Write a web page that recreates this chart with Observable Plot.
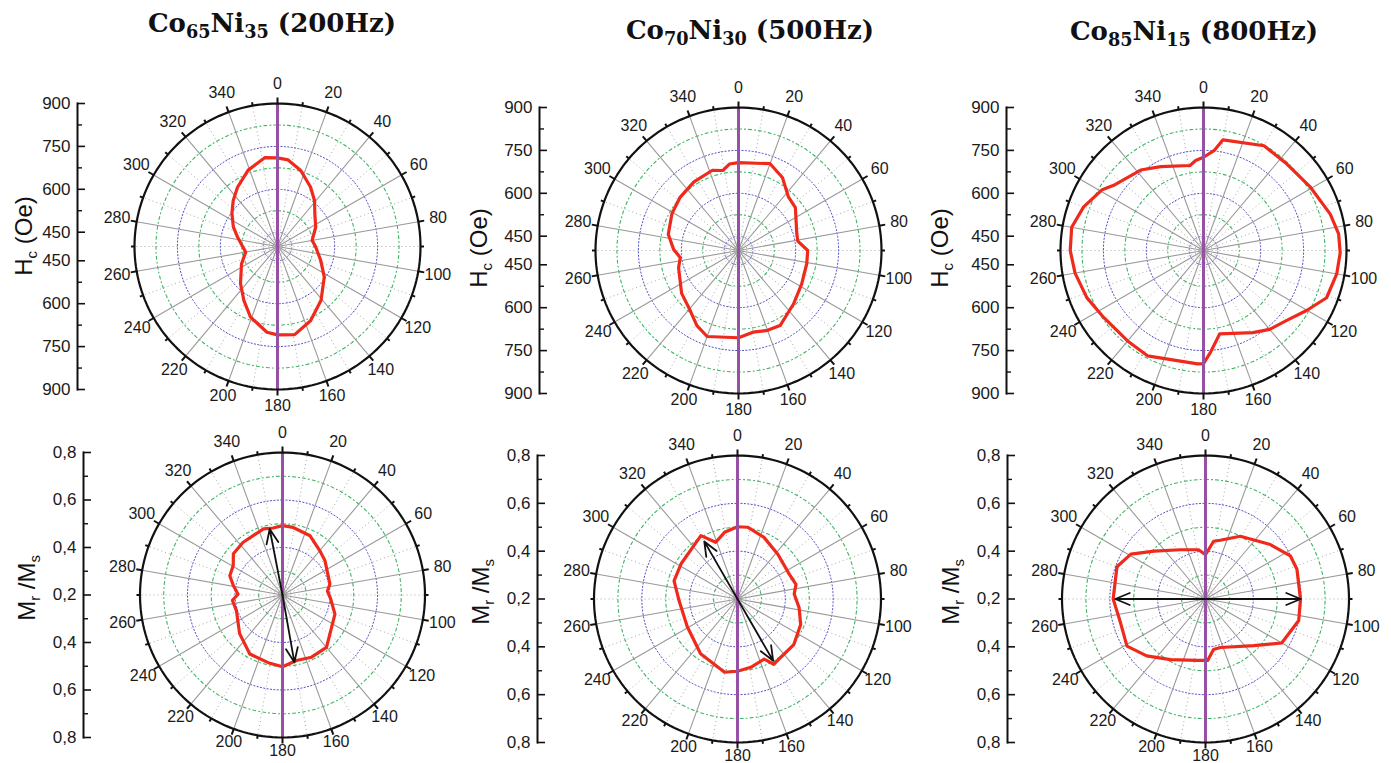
<!DOCTYPE html>
<html><head><meta charset="utf-8">
<script src="https://cdn.jsdelivr.net/npm/d3@7"></script>
<script src="https://cdn.jsdelivr.net/npm/@observablehq/plot@0.6"></script>
<style>
body{margin:0;background:#fff;}
#wrap{position:relative;width:1391px;height:763px;overflow:hidden;background:#fff;font-family:"Liberation Sans",Arial,sans-serif;}
.title{position:absolute;font-family:"DejaVu Serif",serif;font-weight:bold;font-size:26px;line-height:26px;white-space:nowrap;transform:translateX(-50%);color:#111;}
.title sub{font-size:0.68em;vertical-align:-0.32em;line-height:0}
.ylab{position:absolute;font-size:24px;white-space:nowrap;transform:translate(-50%,-50%) rotate(-90deg);color:#111;line-height:1}
.ylab sub{font-size:0.62em;vertical-align:-0.35em;line-height:0}
</style></head>
<body><div id="wrap">
<div class="title" style="left:272px;top:10px">Co<sub>65</sub>Ni<sub>35</sub> (200Hz)</div>
<div class="title" style="left:750px;top:17px">Co<sub>70</sub>Ni<sub>30</sub> (500Hz)</div>
<div class="title" style="left:1194px;top:18px">Co<sub>85</sub>Ni<sub>15</sub> (800Hz)</div>
<div class="ylab" style="left:24px;top:236px">H<sub>c</sub> (Oe)</div>
<div class="ylab" style="left:479px;top:248px">H<sub>c</sub> (Oe)</div>
<div class="ylab" style="left:940px;top:248px">H<sub>c</sub> (Oe)</div>
<div class="ylab" style="left:27px;top:588px">M<sub>r</sub> /M<sub>s</sub></div>
<div class="ylab" style="left:481px;top:592px">M<sub>r</sub> /M<sub>s</sub></div>
<div class="ylab" style="left:951px;top:592px">M<sub>r</sub> /M<sub>s</sub></div>
</div>
<script>
// ---- data ----
const angleTicks = [0,20,40,60,80,100,120,140,160,180,200,220,240,260,280,300,320,340];
const hcTicks = [450, 600, 750, 900];
const hcMinor = [525, 675, 825];
const mrTicks = [0.2, 0.4, 0.6, 0.8];
const mrMinor = [0.3, 0.5, 0.7];

const hc65Angles = [0,7,17,29,39,49,63,80,90,108,123,141,156,169,180,187,201,212,225,244,260,270,283,294,306,316,326,339,352];
const hc65Values = [710,705,678,638,606,573,550,523,533,559,595,642,684,714,709,702,664,622,583,540,513,522,543,569,597,623,650,686,714];

const hc70Angles = [0,20,31,43,53,74,81,90,101,118,134,151,160,170,180,200,209,219,233,254,263,271,283,299,312,327,342,349,354];
const hc70Values = [707,723,698,656,649,612,610,642,643,650,668,700,697,690,705,720,700,669,649,618,605,627,652,666,676,686,695,685,704];

const hc85Angles = [0,6,10,30,44,59,74,83,91,100,111,120,130,140,149,169,176,180,183,208,220,236,248,260,270,280,290,301,306,322,333,351,355];
const hc85Values = [726,751,793,823,820,834,861,876,878,873,861,818,780,760,735,697,756,796,797,817,813,820,840,856,866,868,846,813,788,757,729,701,716];

const mr65Angles = [0,9,25,40,51,77,85,95,110,123,140,155,168,180,191,209,228,251,264,271,281,290,301,310,323,344,352];
const mr65Values = [0.492,0.488,0.475,0.444,0.430,0.405,0.390,0.404,0.435,0.447,0.488,0.489,0.482,0.502,0.492,0.484,0.443,0.405,0.412,0.387,0.411,0.436,0.442,0.470,0.477,0.490,0.485];

const mr70Angles = [0,8,23,42,64,76,85,98,112,129,151,156,169,180,190,214,241,268,286,302,330,339,349];
const mr70Values = [0.502,0.503,0.481,0.452,0.440,0.452,0.438,0.460,0.485,0.503,0.512,0.475,0.491,0.502,0.511,0.476,0.440,0.444,0.476,0.478,0.506,0.454,0.484];

const mr85Angles = [0,8,14,29,50,63,72,90,103,120,134,163,171,178,188,210,226,239,254,270,290,301,313,333,352];
const mr85Values = [0.385,0.444,0.453,0.500,0.554,0.598,0.602,0.597,0.600,0.568,0.481,0.412,0.414,0.457,0.459,0.493,0.542,0.583,0.569,0.586,0.594,0.564,0.494,0.431,0.408];

const mr65ArrowAngles = [349, 170];
const mr65ArrowValues = [0.483, 0.488];
const mr70ArrowAngles = [330, 150];
const mr70ArrowValues = [0.478, 0.498];
const mr85ArrowAngles = [270, 90];
const mr85ArrowValues = [0.577, 0.598];

// ---- layout ----
const W = 1391, H = 763;
const hcFmt = d => String(d);
const mrFmt = d => d3.format(".1f")(d).replace(".", ",");
const hcCfg = {v0: 400, v1: 900, ticks: hcTicks, minor: hcMinor, fmt: hcFmt, bottomGap: 16};
const mrCfg = {v0: 0.2, v1: 0.8, ticks: mrTicks, minor: mrMinor, fmt: mrFmt, bottomGap: 13.5};
const panels = [
  {...hcCfg, cx: 277, cy: 246, R: 143, axisX: 77, angles: hc65Angles, values: hc65Values},
  {...hcCfg, cx: 738, cy: 250, R: 143, axisX: 539, angles: hc70Angles, values: hc70Values},
  {...hcCfg, cx: 1203, cy: 250, R: 143, axisX: 1006, angles: hc85Angles, values: hc85Values},
  {...mrCfg, cx: 282, cy: 594.5, R: 142.5, axisX: 83, angles: mr65Angles, values: mr65Values, arrowAngles: mr65ArrowAngles, arrowValues: mr65ArrowValues},
  {...mrCfg, cx: 737, cy: 598.5, R: 143.5, axisX: 537, angles: mr70Angles, values: mr70Values, arrowAngles: mr70ArrowAngles, arrowValues: mr70ArrowValues},
  {...mrCfg, cx: 1205, cy: 598.5, R: 143.5, axisX: 1007, angles: mr85Angles, values: mr85Values, arrowAngles: mr85ArrowAngles, arrowValues: mr85ArrowValues}
];

function drawPanel(p) {
  const v0 = p.v0, span = p.v1 - p.v0, k = span / p.R;
  const toXY = (a, v) => { const r = v - v0, t = a * Math.PI / 180; return {x: r * Math.sin(t), y: r * Math.cos(t)}; };
  const curve = p.angles.map((a, i) => toXY(a, p.values[i]));
  const ring = vals => vals.flatMap(v => d3.range(0, 361, 2).map(a => ({...toXY(a, v), v})));
  const majorRings = p.ticks.filter(t => t !== v0 && t !== p.v1);
  const solidA = angleTicks.filter(a => a % 180 !== 0);
  const dotA = angleTicks.map(a => a + 10);
  const spokes = as => as.map(a => toXY(a, p.v1));
  const outerTicks = d3.range(0, 360, 10).map(a => {
    const i = toXY(a, p.v1), o = toXY(a, p.v1 + (a % 20 === 0 ? 6 : 3.5) * k);
    return {x1: i.x, y1: i.y, x2: o.x, y2: o.y};
  });
  const gapOf = a => {
    const c = Math.cos(a * Math.PI / 180);
    return c >= 0 ? 20 : 20 + (p.bottomGap - 20) * c * c;
  };
  const labels = angleTicks.map(a => ({a, ...toXY(a, p.v1 + gapOf(a) * k)}));
  const yTicks = p.ticks.flatMap(t => t === v0 ? [{y: 0, t}] : [{y: t - v0, t}, {y: v0 - t, t}]);
  const yMinor = p.minor.flatMap(t => [t - v0, v0 - t]);
  const arrows = (p.arrowAngles || []).map((a, i) => toXY(a, p.arrowValues[i]));
  const zero = () => 0;
  const svg = Plot.plot({
    width: W, height: H,
    marginLeft: p.axisX, marginRight: W - p.axisX - 8,
    marginTop: p.cy - p.R, marginBottom: H - p.cy - p.R,
    x: {domain: [-span, span], range: [p.cx - p.R, p.cx + p.R], axis: null},
    y: {domain: [-span, span], axis: null},
    style: {background: "transparent", position: "absolute", left: "0px", top: "0px", overflow: "visible", fontFamily: "'Liberation Sans', Arial, sans-serif", color: "#111"},
    marks: [
      Plot.link(spokes(dotA), {x1: zero, y1: zero, x2: "x", y2: "y", stroke: "#a8a8a8", strokeWidth: 1, strokeDasharray: "1,3"}),
      Plot.line(ring(p.minor), {x: "x", y: "y", z: "v", stroke: "#3cb462", strokeWidth: 1.1, strokeDasharray: "3,3,1,3"}),
      Plot.line(ring(majorRings), {x: "x", y: "y", z: "v", stroke: "#5050c8", strokeWidth: 1, strokeDasharray: "1.2,2.2"}),
      Plot.link(spokes(solidA), {x1: zero, y1: zero, x2: "x", y2: "y", stroke: "#999999", strokeWidth: 1.1}),
      Plot.line(curve, {x: "x", y: "y", stroke: "#ef2a1c", strokeWidth: 3.2, curve: "linear-closed"}),
      Plot.link([toXY(0, p.v1)], {x1: zero, y1: d => d.y, x2: zero, y2: d => -d.y, stroke: "#9650a4", strokeWidth: 3}),
      Plot.arrow(arrows, {x1: zero, y1: zero, x2: "x", y2: "y", stroke: "#111", strokeWidth: 1.8, headLength: 13, headAngle: 45}),
      Plot.line(ring([p.v1]), {x: "x", y: "y", stroke: "#111", strokeWidth: 2.2}),
      Plot.link(outerTicks, {x1: "x1", y1: "y1", x2: "x2", y2: "y2", stroke: "#111", strokeWidth: 2}),
      Plot.text(labels, {x: "x", y: "y", text: d => String(d.a), fontSize: 16, fill: "#1a1a1a"}),
      Plot.frame({anchor: "left", stroke: "#111", strokeWidth: 2}),
      Plot.tickY(yTicks, {y: "y", stroke: "#111", strokeWidth: 1.6}),
      Plot.tickY(yMinor, {y: d => d, stroke: "#111", strokeWidth: 1.4, insetRight: 3}),
      Plot.text(yTicks, {y: "y", text: d => p.fmt(d.t), frameAnchor: "left", textAnchor: "end", dx: -7, fontSize: 17, fill: "#1a1a1a"})
    ]
  });
  document.getElementById("wrap").appendChild(svg);
}
panels.forEach(drawPanel);
</script>
</body></html>
